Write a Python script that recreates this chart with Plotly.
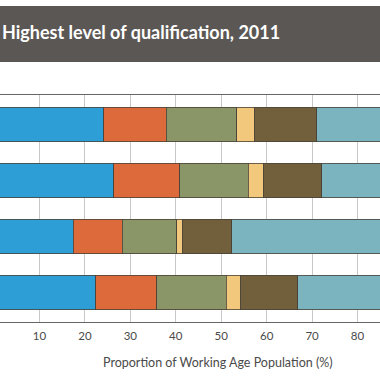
import plotly.graph_objects as go

categories = ["Area 1", "Area 2", "Area 3", "Area 4"]
no_qual = [24.1, 26.4, 17.4, 22.4]
level1 = [13.8, 14.5, 10.8, 13.4]
level2 = [15.5, 15.1, 12.0, 15.3]
apprentice = [4.0, 3.4, 1.3, 3.2]
level3 = [13.6, 12.7, 10.8, 12.5]
level4 = [29.0, 27.9, 47.7, 33.2]

series_names = ["No qualifications", "Level 1", "Level 2", "Apprenticeship", "Level 3", "Level 4 and above"]
series_values = [no_qual, level1, level2, apprentice, level3, level4]
colors = ["#2d9fd6", "#dc6a3b", "#8a9668", "#f2c87c", "#725f3b", "#7bb3bf"]

tick_vals = [10, 20, 30, 40, 50, 60, 70, 80]

fig = go.Figure()
for name, vals, col in zip(series_names, series_values, colors):
    fig.add_trace(go.Bar(
        y=categories, x=vals, name=name, orientation="h",
        marker=dict(color=col, line=dict(color="#4a4238", width=0.8)),
        showlegend=False,
    ))

W, H = 380, 380
top, bottom = 95, 322
ph = bottom - top

def py(pix):
    return (bottom - pix) / ph

fig.add_shape(type="rect", xref="paper", yref="paper", x0=0, x1=1,
              y0=py(62), y1=py(6), fillcolor="#5b5754", line=dict(width=0), layer="below")

fig.update_layout(
    width=W, height=H,
    margin=dict(l=0, r=0, t=top, b=H - bottom),
    barmode="stack", bargap=0.385,
    plot_bgcolor="white", paper_bgcolor="white",
    font=dict(family="Lato", color="#4a4a4a"),
    title=dict(text="<b>Highest level of qualification, 2011</b>",
               font=dict(family="Lato", size=18, color="white"),
               x=2 / W, xanchor="left", xref="container",
               y=1 - 33 / H, yanchor="middle", yref="container"),
    xaxis=dict(range=[1.31, 84.95], tickvals=tick_vals, showgrid=True,
               gridcolor="#c8c8c8", gridwidth=1, showline=True, mirror=True,
               linecolor="#666666", linewidth=1, zeroline=False,
               ticks="", ticklabelstandoff=3,
               tickfont=dict(family="Lato", size=11.5, color="#4a4a4a")),
    yaxis=dict(categoryorder="array", categoryarray=categories,
               range=[3.53, -0.53], showticklabels=False, showgrid=False,
               zeroline=False, automargin=False),
    annotations=[dict(text="Proportion of Working Age Population (%)",
                      xref="x", yref="paper", x=49.4, y=py(362),
                      xanchor="center", yanchor="middle", showarrow=False,
                      font=dict(family="Lato", size=12.5, color="#4a4a4a"))],
)

fig.write_html("out.html", config={"displayModeBar": False},
               post_script="document.body.style.margin='0';document.body.style.overflow='hidden';")
